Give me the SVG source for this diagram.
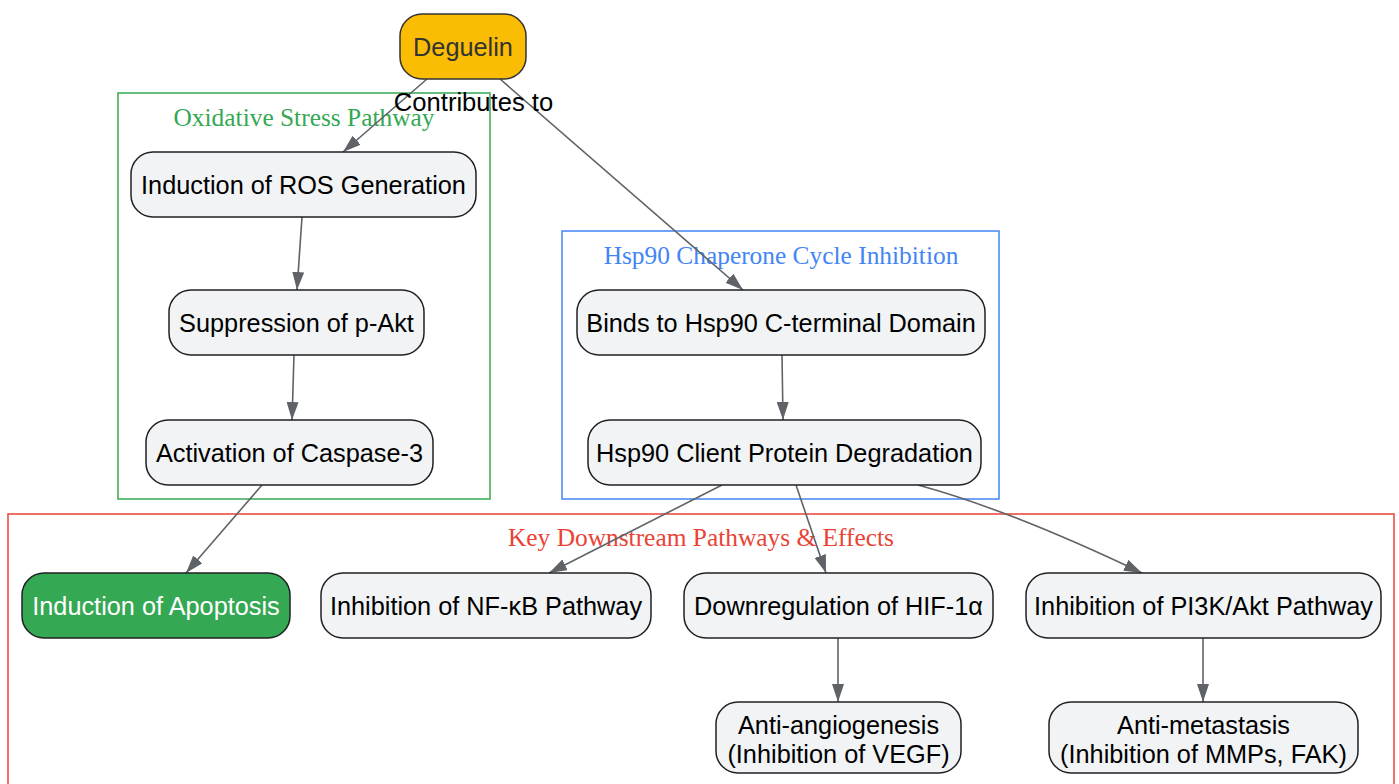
<svg xmlns="http://www.w3.org/2000/svg" width="1399" height="784" viewBox="0 0 1399 784">
<defs>
<marker id="arr" viewBox="0 0 18 12" refX="18" refY="6" markerWidth="18" markerHeight="12" markerUnits="userSpaceOnUse" orient="auto">
<path d="M0,0 L18,6 L0,12 z" fill="#5f6368"/>
</marker>
</defs>
<style>
.cl{fill:none;stroke-width:1.5}
.ct{font-family:"Liberation Serif","Times New Roman",serif;font-size:25.4px;text-anchor:middle}
.n{fill:#f1f3f4;stroke:#202124;stroke-width:1.5}
.t{font-family:"Liberation Sans",Arial,sans-serif;font-size:25.3px;text-anchor:middle;fill:#000}
.e{fill:none;stroke:#5f6368;stroke-width:1.6;marker-end:url(#arr)}
</style>
<rect width="1399" height="784" fill="#ffffff"/>
<g id="clusters">
<g id="cluster-oxidative">
<rect class="cl" x="118" y="93" width="372" height="406" stroke="#34a853"/>
<text class="ct" x="304" y="126" fill="#34a853">Oxidative Stress Pathway</text>
</g>
<g id="cluster-hsp90">
<rect class="cl" x="562" y="231" width="437" height="268" stroke="#4285f4"/>
<text class="ct" x="781" y="264" fill="#4285f4">Hsp90 Chaperone Cycle Inhibition</text>
</g>
<g id="cluster-downstream">
<rect class="cl" x="8" y="514" width="1386" height="300" stroke="#ea4335"/>
<text class="ct" x="701" y="546" fill="#ea4335">Key Downstream Pathways &amp; Effects</text>
</g>
</g>
<g id="connectors">
<path class="e" d="M427,79 L343,152"/>
<path class="e" d="M500,79 L743,290"/>
<path class="e" d="M302,217 L297,290"/>
<path class="e" d="M294,355 L292,420"/>
<path class="e" d="M262,485 L186,573"/>
<path class="e" d="M782,355 L783,420"/>
<path class="e" d="M722,485 L549,573"/>
<path class="e" d="M796,485 L826,573"/>
<path class="e" d="M918,485 Q1010,510 1142,573"/>
<path class="e" d="M838,638 L838,702"/>
<path class="e" d="M1203,638 L1203,702"/>
<text class="t" x="473.5" y="111" style="font-size:25.6px">Contributes to</text>
</g>
<g id="node-deguelin">
<rect x="400" y="14" width="126" height="65" rx="22" fill="#fbbc04" stroke="#333" stroke-width="1.5"/>
<text class="t" x="463" y="56" style="fill:#333">Deguelin</text>
</g>
<g id="node-ros">
<rect class="n" x="131" y="152" width="345" height="65" rx="22"/>
<text class="t" x="303.5" y="194">Induction of ROS Generation</text>
</g>
<g id="node-pakt">
<rect class="n" x="169" y="290" width="255" height="65" rx="22"/>
<text class="t" x="296.5" y="332">Suppression of p-Akt</text>
</g>
<g id="node-caspase">
<rect class="n" x="146" y="420" width="287" height="65" rx="22"/>
<text class="t" x="289.5" y="462">Activation of Caspase-3</text>
</g>
<g id="node-binds">
<rect class="n" x="577" y="290" width="408" height="65" rx="22"/>
<text class="t" x="781" y="332">Binds to Hsp90 C-terminal Domain</text>
</g>
<g id="node-client">
<rect class="n" x="588" y="420" width="393" height="65" rx="22"/>
<text class="t" x="784.5" y="462">Hsp90 Client Protein Degradation</text>
</g>
<g id="node-apoptosis">
<rect x="22" y="573" width="268" height="65" rx="22" fill="#34a853" stroke="#202124" stroke-width="1.5"/>
<text class="t" x="156" y="615" style="fill:#ffffff">Induction of Apoptosis</text>
</g>
<g id="node-nfkb">
<rect class="n" x="321" y="573" width="330" height="65" rx="22"/>
<text class="t" x="486" y="615">Inhibition of NF-κB Pathway</text>
</g>
<g id="node-hif">
<rect class="n" x="684" y="573" width="309" height="65" rx="22"/>
<text class="t" x="838.5" y="615">Downregulation of HIF-1α</text>
</g>
<g id="node-pi3k">
<rect class="n" x="1026" y="573" width="355" height="65" rx="22"/>
<text class="t" x="1203.5" y="615">Inhibition of PI3K/Akt Pathway</text>
</g>
<g id="node-angio">
<rect class="n" x="716" y="702" width="245" height="71" rx="22"/>
<text class="t" x="838.5" y="734">Anti-angiogenesis</text>
<text class="t" x="838.5" y="763">(Inhibition of VEGF)</text>
</g>
<g id="node-meta">
<rect class="n" x="1049" y="702" width="309" height="71" rx="22"/>
<text class="t" x="1203.5" y="734">Anti-metastasis</text>
<text class="t" x="1203.5" y="763">(Inhibition of MMPs, FAK)</text>
</g>
</svg>
